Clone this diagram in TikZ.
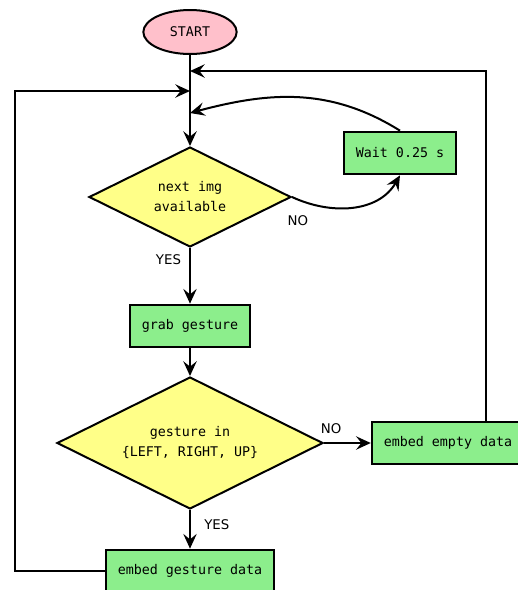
\documentclass[tikz,border=0pt]{standalone}
\usepackage{fontspec}
\setmonofont{DejaVu Sans Mono}
\newfontfamily\lblfont{DejaVu Sans}
\usetikzlibrary{arrows.meta,positioning,shapes.geometric}

\definecolor{startpink}{RGB}{255,192,203}
\definecolor{boxgreen}{RGB}{140,238,140}
\definecolor{decyellow}{RGB}{255,255,136}

\begin{document}
\begin{tikzpicture}[
				x=0.75pt,y=0.75pt,
				every node/.style={on grid,font=\ttfamily\fontsize{10}{15}\selectfont},
				startnode/.style={draw,fill=startpink,ellipse,line width=1.5pt,minimum width=70pt,minimum height=33pt,inner sep=0pt},
				procbox/.style={draw,fill=boxgreen,rectangle,line width=1.5pt,minimum height=32pt,inner xsep=9pt},
				decision/.style={draw,fill=decyellow,diamond,aspect=2,line width=1.5pt,align=center,inner sep=0pt},
				answer/.style={font=\lblfont\fontsize{10}{11}\selectfont,inner sep=1pt},
				>={Stealth[length=11pt,width=10pt,inset=4pt]},
				line width=1.5pt
				]
				\useasboundingbox (0,-590) rectangle (518,0);
				
				% main column
				\node[startnode] (start) at (190,-32) {START};
				\node[decision,minimum width=151.5pt,minimum height=75pt,below=123.75pt of start] (nextimg) {next img\\available};
				\node[procbox,below=96.75pt of nextimg] (grab) {grab gesture};
				\node[decision,minimum width=199.5pt,minimum height=99pt,below=87.75pt of grab] (gestin) {gesture in\\\{LEFT, RIGHT, UP\}};
				\node[procbox,below=96pt of gestin] (gdata) {embed gesture data};
				
				% side boxes
				\node[procbox,above right=33pt and 157.5pt of nextimg] (wait) {Wait 0.25 s};
				\node[procbox,right=193.5pt of gestin] (empty) {embed empty data};
				
				% joins on the main line
				\coordinate (jempty) at (190,-71);
				\coordinate (jgdata) at (190,-91);
				\coordinate (jwait) at (190,-113);
				
				% the arrows
				\draw[->] (start) -- (nextimg);
				\draw[->] (nextimg.east) to[out=-25,in=-120] node[answer,pos=0.05,below=10pt] {NO} (wait.south);
				\draw[->] (wait.north) to[out=148,in=15] (jwait);
				\draw[->] (nextimg) -- node[answer,pos=0.21,left=5pt] {YES} (grab);
				\draw[->] (grab) -- (gestin);
				\draw[->] (gestin.east) -- node[answer,pos=0.15,above=5pt] {NO} (empty);
				\draw[->] (gestin) -- node[answer,pos=0.37,right=9pt] {YES} (gdata);
				\draw[->] ([xshift=28.5pt]empty.north) |- (jempty);
				\draw[->] (gdata.west) -- ++(-90,0) |- (jgdata);
			\end{tikzpicture}
\end{document}
